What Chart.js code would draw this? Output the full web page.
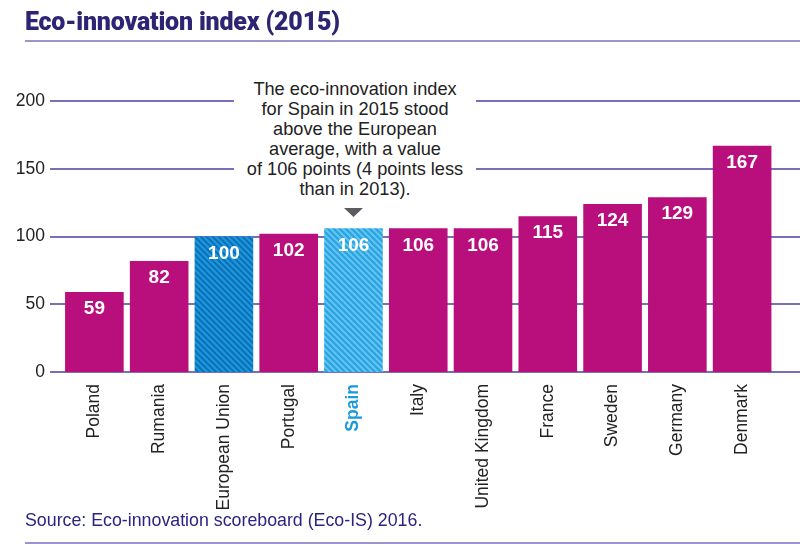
<!DOCTYPE html>
<html>
<head>
<meta charset="utf-8">
<script src="https://cdn.jsdelivr.net/npm/chart.js@4/dist/chart.umd.min.js"></script>
<style>
body{margin:0;background:#fff;}
#wrap{position:relative;width:800px;height:544px;overflow:hidden;font-family:"Liberation Sans",Arial,sans-serif;}
#chart{position:absolute;left:0;top:0;}
.title{position:absolute;left:25px;top:9px;font-family:Roboto,sans-serif;font-weight:900;font-size:25px;line-height:25px;color:#2d2474;white-space:nowrap;letter-spacing:-0.2px;}
.rule{position:absolute;left:25px;right:0;height:2px;background:#9c95c9;}
.note{position:absolute;left:234px;width:242px;top:79px;height:125px;background:#fff;text-align:center;font-size:18.2px;line-height:20px;color:#222;white-space:nowrap;}
.source{position:absolute;left:25px;top:510px;font-size:17.8px;line-height:20px;color:#2b2381;white-space:nowrap;}
</style>
</head>
<body>
<div id="wrap">
  <canvas id="chart" width="800" height="544"></canvas>
  <div class="title">Eco-innovation index (2015)</div>
  <div class="rule" style="top:40px"></div>
  <div class="note">The eco-innovation index<br>for Spain in 2015 stood<br>above the European<br>average, with a value<br>of 106 points (4 points less<br>than in 2013).</div>
  <div class="source">Source: Eco-innovation scoreboard (Eco-IS) 2016.</div>
  <div class="rule" style="top:542px"></div>
</div>
<script>
var countries = ["Poland","Rumania","European Union","Portugal","Spain","Italy","United Kingdom","France","Sweden","Germany","Denmark"];
var scores = [59,82,100,102,106,106,106,115,124,129,167];
var yTicks = [0,50,100,150,200];
var euIndex = 2, spainIndex = 4;

// diagonal stripes for the two blue bars
function stripes(base, line){
	var s = 6;
	var c = document.createElement("canvas");
	c.width = s; c.height = s;
	var g = c.getContext("2d");
	g.fillStyle = base;
	g.fillRect(0,0,s,s);
	g.strokeStyle = line;
	g.lineWidth = 1.8;
	g.beginPath();
	g.moveTo(-1,-1); g.lineTo(s+1,s+1);
	g.moveTo(-1,s-1); g.lineTo(1,s+1);
	g.moveTo(s-1,-1); g.lineTo(s+1,1);
	g.stroke();
	return g.createPattern(c,"repeat");
}

var magenta = "#b80f7c";
var colors = countries.map(function(c,i){
	if(i==euIndex) return stripes("#1a96da","#0d6cb4");
	if(i==spainIndex) return stripes("#2aa6e4","#6cc6f0");
	return magenta;
});

var gridLines = {
	id:"gridLines",
	beforeDatasetsDraw: function(chart){
		var ctx = chart.ctx, y = chart.scales.y;
		ctx.save();
		ctx.strokeStyle = "#4b3f9e";
		ctx.lineWidth = 1.6;
		y.ticks.forEach(function(t){
			var py = Math.round(y.getPixelForValue(t.value));
			ctx.beginPath();
			ctx.moveTo(50,py);
			ctx.lineTo(chart.width,py);
			ctx.stroke();
		});
		ctx.restore();
	}
};

var barLabels = {
	id:"barLabels",
	afterDatasetsDraw: function(chart){
		var ctx = chart.ctx;
		var bars = chart.getDatasetMeta(0).data;
		ctx.save();
		ctx.fillStyle = "#fff";
		ctx.font = "bold 19px 'Liberation Sans', Arial, sans-serif";
		ctx.textAlign = "center";
		ctx.textBaseline = "middle";
		bars.forEach(function(b,i){
			ctx.fillText(scores[i], b.x, b.y+17);
		});
		// pointer above Spain
		var sp = bars[spainIndex];
		ctx.fillStyle = "#5d5b60";
		ctx.beginPath();
		ctx.moveTo(sp.x-9.5,208);
		ctx.lineTo(sp.x+9.5,208);
		ctx.lineTo(sp.x,217);
		ctx.closePath();
		ctx.fill();
		ctx.restore();
	}
};

new Chart(document.getElementById("chart"), {
	type:"bar",
	data:{
		labels:countries,
		datasets:[{
			data:scores,
			backgroundColor:colors,
			borderWidth:0,
			barPercentage:0.905,
			categoryPercentage:1
		}]
	},
	options:{
		responsive:false,
		animation:false,
		layout:{padding:{left:0,right:25.5,top:101,bottom:0}},
		plugins:{legend:{display:false},tooltip:{enabled:false},title:{display:false}},
		scales:{
			x:{
				grid:{display:false},
				border:{display:false},
				ticks:{
					autoSkip:false,
					minRotation:90,
					maxRotation:90,
					padding:4,
					color:function(c){ return c.index==spainIndex ? "#1b9ad8" : "#222"; },
					font:function(c){ return {family:"'Liberation Sans', Arial, sans-serif", size:17.5, weight:c.index==spainIndex ? "bold" : "normal"}; }
				},
				afterFit:function(s){ s.height = 172; }
			},
			y:{
				min:0,
				max:200,
				grid:{display:false},
				border:{display:false},
				ticks:{
					color:"#222",
					padding:9,
					font:{family:"'Liberation Sans', Arial, sans-serif", size:17.5}
				},
				afterBuildTicks:function(s){ s.ticks = yTicks.map(function(v){ return {value:v}; }); },
				afterFit:function(s){ s.width = 62; }
			}
		}
	},
	plugins:[gridLines,barLabels]
});
</script>
</body>
</html>
